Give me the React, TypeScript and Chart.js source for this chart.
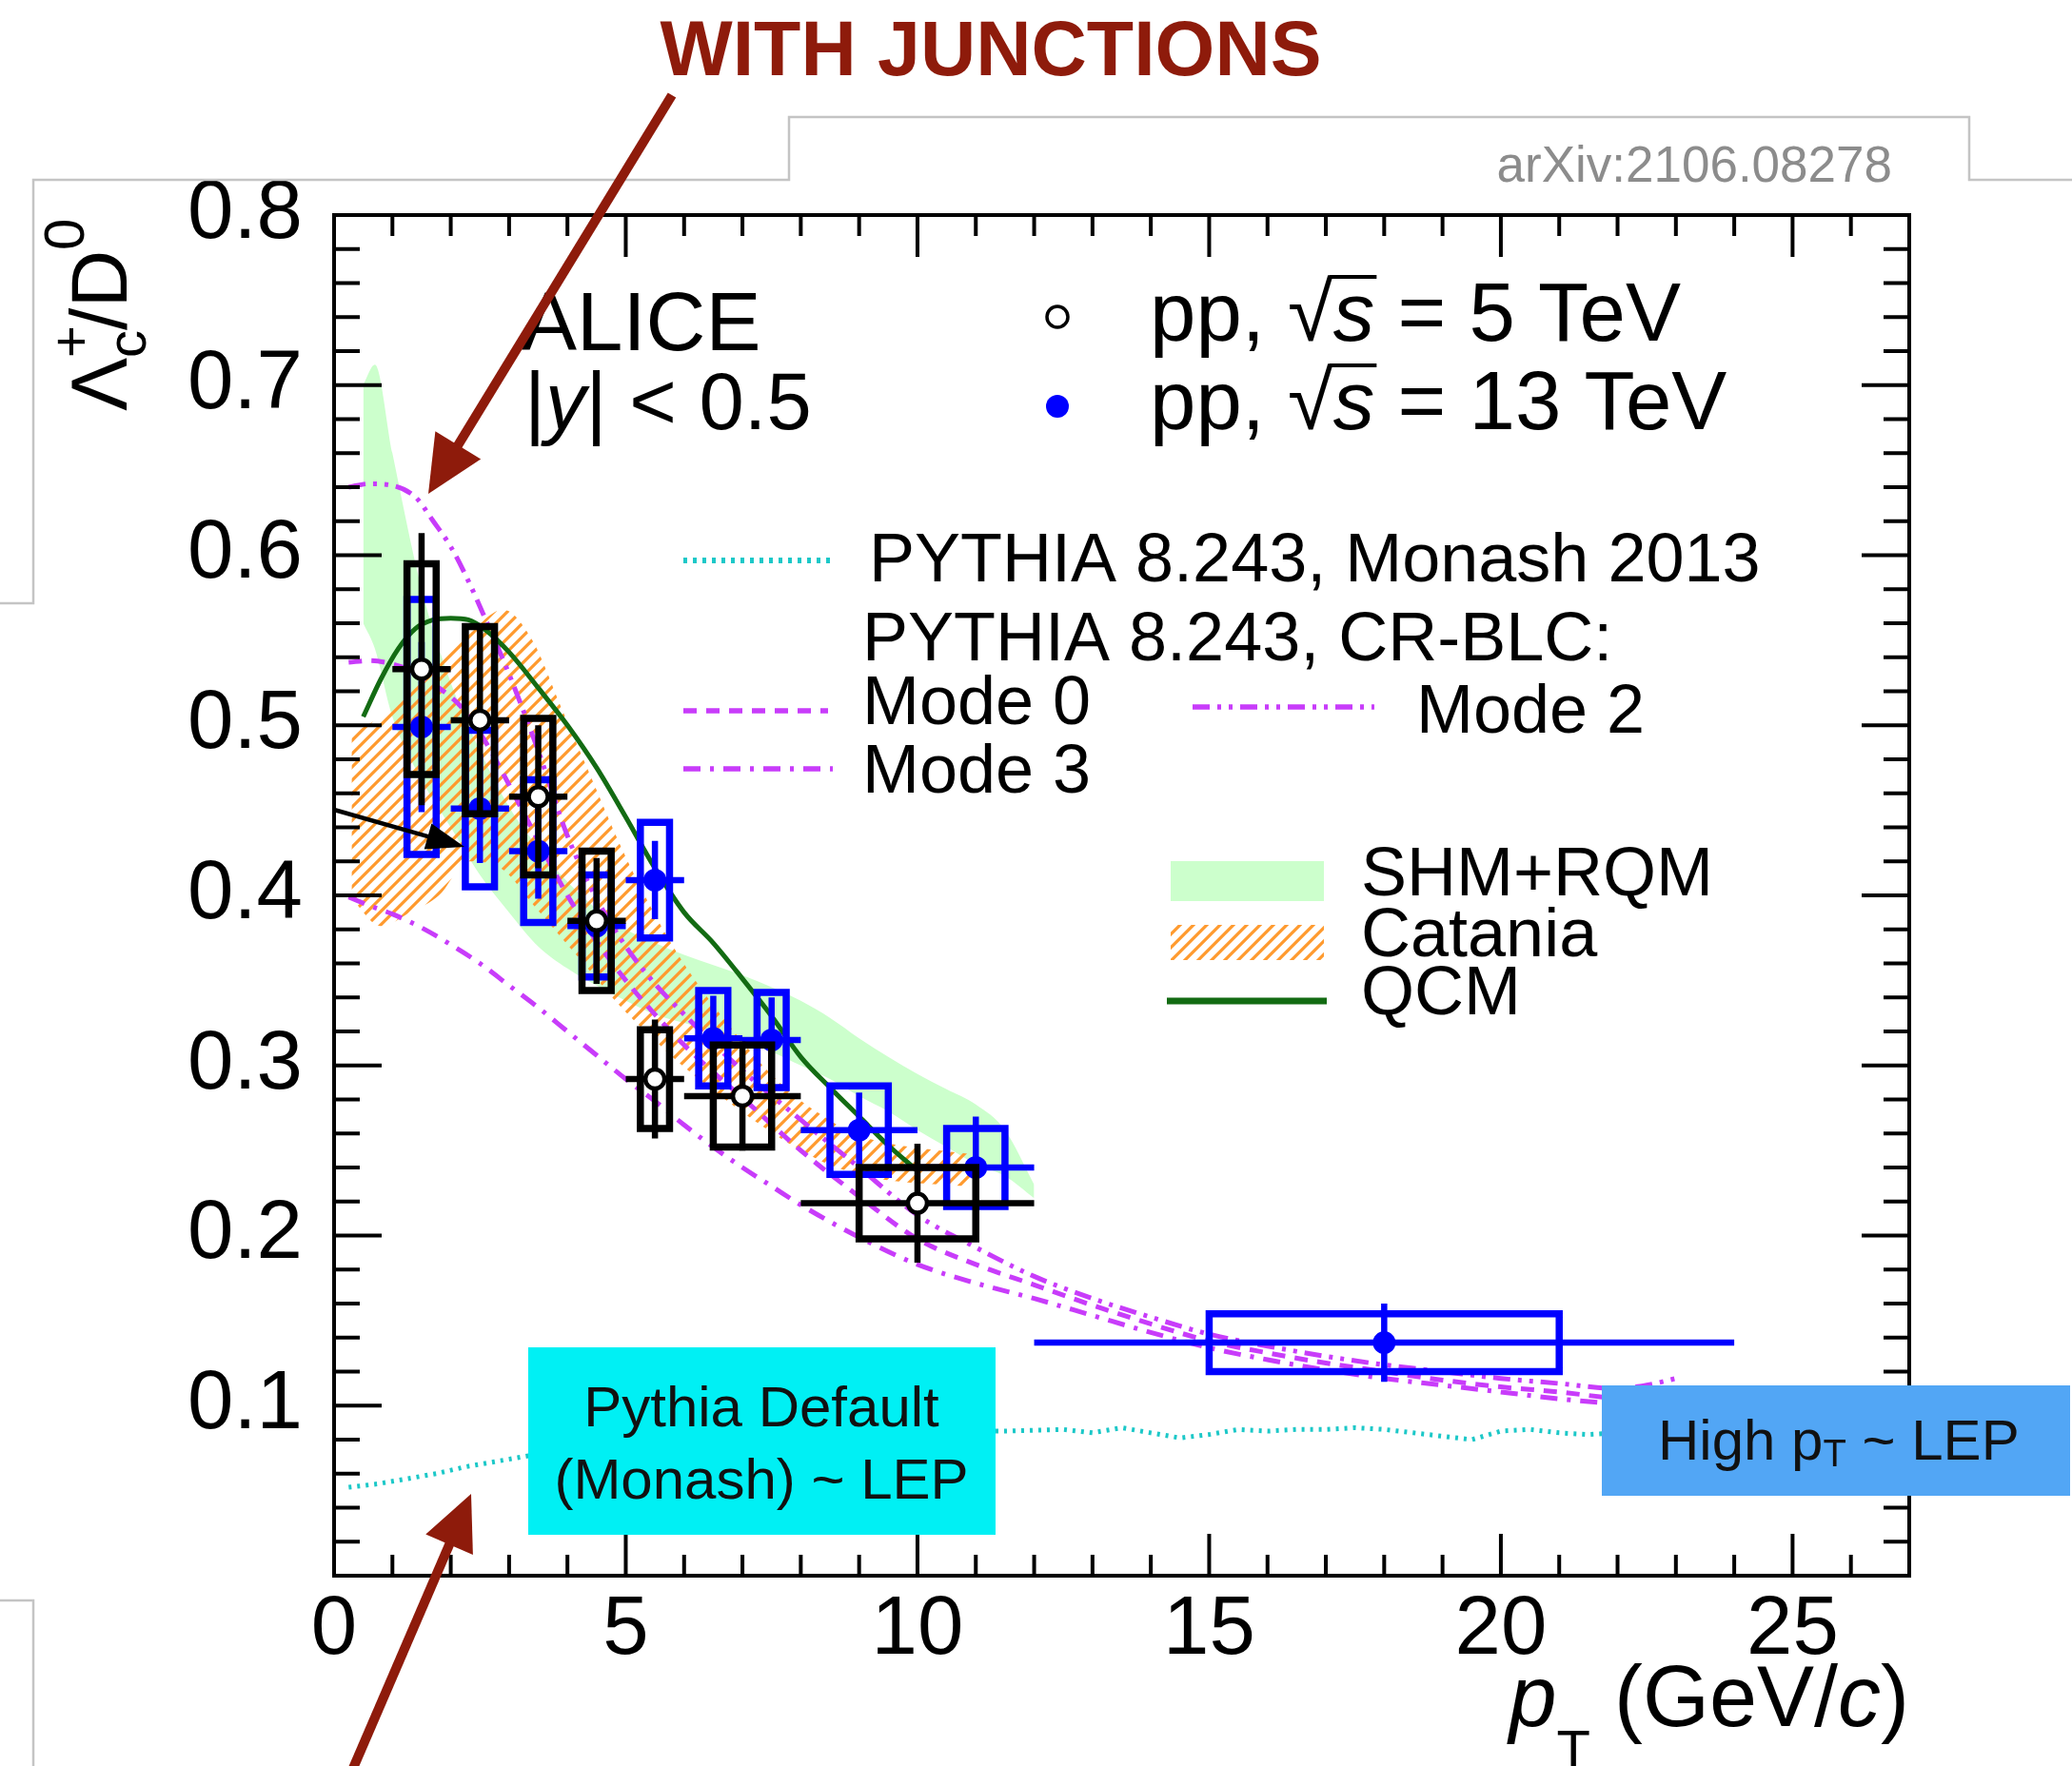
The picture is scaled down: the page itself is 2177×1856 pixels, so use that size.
import React, { useEffect, useRef } from 'react';
import { Chart, registerables } from 'chart.js';

Chart.register(...registerables);

const FONT = '"Liberation Sans", Arial, Helvetica, sans-serif';

// ---------------- axes ----------------
const xRange = [0, 27];
const yRange = [0, 0.8];
const xTickLabels = [0, 5, 10, 15, 20, 25];
const yTickLabels = [0.1, 0.2, 0.3, 0.4, 0.5, 0.6, 0.7, 0.8];
const xMinorStep = 1;
const xMajorEvery = 5;
const yMinorStep = 0.02;
const yMajorEvery = 5;

// ---------------- ALICE pp 5 TeV (open black) ----------------
const pt5X = [1.5, 2.5, 3.5, 4.5, 5.5, 7, 10];
const pt5Lo = [1, 2, 3, 4, 5, 6, 8];
const pt5Hi = [2, 3, 4, 5, 6, 8, 12];
const pt5Y = [0.533, 0.503, 0.458, 0.385, 0.292, 0.282, 0.219];
const pt5Stat = [0.08, 0.055, 0.042, 0.037, 0.035, 0.032, 0.035];
const pt5Sys = [0.062, 0.055, 0.046, 0.041, 0.029, 0.03, 0.021];

// ---------------- ALICE pp 13 TeV (filled blue) ----------------
const pt13X = [1.5, 2.5, 3.5, 4.5, 5.5, 6.5, 7.5, 9, 11, 18];
const pt13Lo = [1, 2, 3, 4, 5, 6, 7, 8, 10, 12];
const pt13Hi = [2, 3, 4, 5, 6, 7, 8, 10, 12, 24];
const pt13Y = [0.499, 0.451, 0.426, 0.382, 0.409, 0.316, 0.315, 0.262, 0.24, 0.137];
const pt13Stat = [0.05, 0.032, 0.028, 0.03, 0.023, 0.025, 0.025, 0.022, 0.03, 0.023];
const pt13Sys = [0.075, 0.046, 0.042, 0.03, 0.034, 0.028, 0.028, 0.026, 0.023, 0.017];

// ---------------- SHM+RQM band ----------------
const shmX = [0.5, 0.7, 1.0, 1.5, 2.0, 2.5, 3.0, 3.5, 4.0, 4.5, 5.0, 5.5, 6.0, 6.5, 7.0, 7.5, 8.0, 8.5, 9.0, 9.5, 10.0, 10.5, 11.0, 11.5, 12.0];
const shmHi = [0.7, 0.712, 0.66, 0.58, 0.525, 0.485, 0.452, 0.428, 0.408, 0.392, 0.38, 0.372, 0.365, 0.359, 0.353, 0.346, 0.338, 0.328, 0.316, 0.305, 0.295, 0.286, 0.277, 0.262, 0.23];
const shmLo = [0.56, 0.545, 0.505, 0.468, 0.44, 0.412, 0.39, 0.37, 0.357, 0.347, 0.338, 0.33, 0.325, 0.32, 0.314, 0.308, 0.3, 0.292, 0.282, 0.273, 0.262, 0.252, 0.242, 0.235, 0.222];

// ---------------- Catania band ----------------
const catX = [0.3, 0.8, 1.3, 1.8, 2.3, 2.9, 3.4, 3.9, 4.4, 4.9, 5.4, 5.9, 6.4, 6.9, 7.4, 7.9, 8.4, 8.9, 9.4, 9.9, 10.4, 10.9];
const catHi = [0.495, 0.505, 0.52, 0.537, 0.553, 0.568, 0.55, 0.51, 0.47, 0.43, 0.395, 0.365, 0.34, 0.318, 0.298, 0.282, 0.27, 0.26, 0.255, 0.252, 0.25, 0.248];
const catLo = [0.398, 0.382, 0.39, 0.4, 0.42, 0.415, 0.395, 0.375, 0.355, 0.335, 0.318, 0.302, 0.288, 0.275, 0.263, 0.252, 0.243, 0.237, 0.233, 0.231, 0.23, 0.229];

// ---------------- QCM ----------------
const qcmX = [0.5, 0.8, 1.1, 1.4, 1.7, 2.0, 2.3, 2.6, 3.0, 3.5, 4.0, 4.5, 5.0, 5.5, 6.0, 6.5, 7.0, 7.5, 8.0, 8.5, 9.0, 9.5, 10.0];
const qcmY = [0.505, 0.527, 0.545, 0.557, 0.562, 0.563, 0.562, 0.556, 0.543, 0.522, 0.5, 0.475, 0.446, 0.416, 0.39, 0.372, 0.351, 0.329, 0.305, 0.287, 0.27, 0.253, 0.238];

// ---------------- PYTHIA Monash ----------------
const monX = [0.25, 0.75, 1.25, 1.75, 2.25, 2.75, 3.25, 3.75, 4.5, 5.5, 6.5, 7.5, 8.5, 9.5, 10.5, 11.5, 12.5, 13.0, 13.5, 14.0, 14.5, 15.0, 15.5, 16.0, 16.5, 17.0, 17.5, 18.0, 18.5, 19.0, 19.5, 20.0, 20.5, 21.0, 21.5, 22.0, 23.0];
const monY = [0.052, 0.054, 0.057, 0.06, 0.064, 0.067, 0.07, 0.073, 0.077, 0.08, 0.082, 0.083, 0.084, 0.085, 0.085, 0.085, 0.086, 0.084, 0.087, 0.084, 0.081, 0.083, 0.086, 0.085, 0.086, 0.086, 0.087, 0.086, 0.084, 0.082, 0.08, 0.085, 0.086, 0.084, 0.083, 0.084, 0.085];

// ---------------- PYTHIA CR-BLC modes ----------------
const mode2X = [0.25, 0.6, 1.0, 1.4, 1.7, 2.0, 2.3, 2.6, 3.0, 3.5, 4.0, 4.5, 5.0, 5.5, 6.0, 6.5, 7.0, 8.0, 9.0, 10.0, 11.0, 12.0, 13.0, 14.0, 15.0, 16.0, 17.0, 18.0, 19.0, 20.0, 21.0, 22.0, 22.5, 23.0];
const mode2Y = [0.64, 0.642, 0.641, 0.634, 0.62, 0.605, 0.585, 0.562, 0.53, 0.485, 0.435, 0.398, 0.37, 0.348, 0.33, 0.313, 0.297, 0.268, 0.24, 0.212, 0.193, 0.176, 0.163, 0.152, 0.142, 0.135, 0.129, 0.124, 0.12, 0.116, 0.113, 0.11, 0.112, 0.116];
const mode0X = [0.25, 0.6, 1.0, 1.4, 1.8, 2.2, 2.6, 3.0, 3.5, 4.0, 4.5, 5.0, 5.5, 6.0, 6.5, 7.0, 8.0, 9.0, 10.0, 11.0, 12.0, 13.0, 14.0, 15.0, 16.0, 17.0, 18.0, 19.0, 20.0, 21.0, 22.0, 23.0];
const mode0Y = [0.537, 0.538, 0.536, 0.531, 0.522, 0.51, 0.49, 0.465, 0.432, 0.4, 0.373, 0.35, 0.33, 0.312, 0.296, 0.281, 0.25, 0.223, 0.198, 0.183, 0.171, 0.159, 0.148, 0.138, 0.131, 0.125, 0.12, 0.115, 0.111, 0.108, 0.104, 0.101];
const mode3X = [0.25, 0.6, 1.0, 1.5, 2.0, 2.5, 3.0, 3.5, 4.0, 4.5, 5.0, 5.5, 6.0, 6.5, 7.0, 7.5, 8.0, 9.0, 10.0, 11.0, 12.0, 13.0, 14.0, 15.0, 16.0, 17.0, 18.0, 19.0, 20.0, 21.0, 22.0, 23.0];
const mode3Y = [0.399, 0.394, 0.389, 0.381, 0.371, 0.36, 0.347, 0.334, 0.32, 0.306, 0.292, 0.279, 0.265, 0.252, 0.24, 0.229, 0.218, 0.199, 0.183, 0.172, 0.163, 0.153, 0.143, 0.134, 0.127, 0.121, 0.116, 0.112, 0.108, 0.104, 0.101, 0.099];

// ---------------- colours ----------------
const BLUE = '#0000ff';
const GREEN_BAND = '#ccffcc';
const QCM_GREEN = '#136b13';
const ORANGE = '#ff9a2e';
const CYAN_LINE = '#1cc8c8';
const MAGENTA = '#c83cfa';
const DARK_RED = '#8e1b0b';

type Pt = { x: number; y: number | null };
const xy = (xs: number[], ys: number[]): Pt[] => xs.map((x, i) => ({ x, y: ys[i] }));

function boxPoints(xs: number[], lo: number[], hi: number[], ys: number[], sys: number[]): Pt[] {
  const pts: Pt[] = [];
  xs.forEach((x, i) => {
    const w = (hi[i] - lo[i]) / 4;
    const y0 = ys[i] - sys[i];
    const y1 = ys[i] + sys[i];
    pts.push({ x: x - w, y: y0 }, { x: x + w, y: y0 }, { x: x + w, y: y1 }, { x: x - w, y: y1 }, { x: x - w, y: y0 }, { x: x + w, y: y0 }, { x, y: null });
  });
  return pts;
}

function barPoints(xs: number[], lo: number[], hi: number[], ys: number[], st: number[]): Pt[] {
  const pts: Pt[] = [];
  xs.forEach((x, i) => {
    pts.push({ x: lo[i], y: ys[i] }, { x: hi[i], y: ys[i] }, { x: hi[i], y: null });
    pts.push({ x, y: ys[i] - st[i] }, { x, y: ys[i] + st[i] }, { x, y: null });
  });
  return pts;
}

function makeHatch(): CanvasPattern | string {
  const c = document.createElement('canvas');
  const s = 14;
  c.width = s;
  c.height = s;
  const g = c.getContext('2d');
  if (!g) return ORANGE;
  g.strokeStyle = ORANGE;
  g.lineWidth = 3.2;
  g.beginPath();
  g.moveTo(0, s);
  g.lineTo(s, 0);
  g.moveTo(-s / 2, s / 2);
  g.lineTo(s / 2, -s / 2);
  g.moveTo(s / 2, s * 1.5);
  g.lineTo(s * 1.5, s / 2);
  g.stroke();
  return g.createPattern(c, 'repeat') || ORANGE;
}

type Run = { t: string; size: number; italic?: boolean; bold?: boolean; dy?: number; overline?: boolean; noAdvance?: boolean };
const fontOf = (r: Run) => `${r.italic ? 'italic ' : ''}${r.bold ? 'bold ' : ''}${r.size}px ${FONT}`;

function drawRuns(ctx: CanvasRenderingContext2D, x: number, y: number, runs: Run[], align: 'left' | 'right' | 'center' = 'left') {
  ctx.textBaseline = 'alphabetic';
  ctx.textAlign = 'left';
  let total = 0;
  for (const r of runs) {
    ctx.font = fontOf(r);
    if (!r.noAdvance) total += ctx.measureText(r.t).width;
  }
  let cx = align === 'right' ? x - total : align === 'center' ? x - total / 2 : x;
  let radTop = 0;
  for (const r of runs) {
    ctx.font = fontOf(r);
    const m = ctx.measureText(r.t);
    ctx.fillText(r.t, cx, y + (r.dy || 0));
    if (r.t === '√') radTop = m.actualBoundingBoxAscent;
    if (r.overline) ctx.fillRect(cx - 4, y - radTop, m.width + 6, 4);
    if (!r.noAdvance) cx += m.width;
  }
}

function arrow(ctx: CanvasRenderingContext2D, x0: number, y0: number, x1: number, y1: number, color: string, width: number, headLen: number, headHalf: number) {
  const a = Math.atan2(y1 - y0, x1 - x0);
  const bx = x1 - headLen * Math.cos(a);
  const by = y1 - headLen * Math.sin(a);
  ctx.strokeStyle = color;
  ctx.fillStyle = color;
  ctx.lineWidth = width;
  ctx.lineCap = 'butt';
  ctx.beginPath();
  ctx.moveTo(x0, y0);
  ctx.lineTo(bx + 2 * Math.cos(a), by + 2 * Math.sin(a));
  ctx.stroke();
  ctx.beginPath();
  ctx.moveTo(x1, y1);
  ctx.lineTo(bx + headHalf * Math.sin(a), by - headHalf * Math.cos(a));
  ctx.lineTo(bx - headHalf * Math.sin(a), by + headHalf * Math.cos(a));
  ctx.closePath();
  ctx.fill();
}

export default function App() {
  const ref = useRef<HTMLCanvasElement>(null);

  useEffect(() => {
    document.body.style.margin = '0';
    document.body.style.overflow = 'hidden';
    const canvas = ref.current;
    if (!canvas) return;
    const hatch = makeHatch();

    const lineDs = (data: Pt[], color: string, width: number, dash: number[], extra: any = {}) => ({
      data,
      borderColor: color,
      borderWidth: width,
      borderDash: dash,
      pointRadius: 0,
      showLine: true,
      fill: false,
      cubicInterpolationMode: 'monotone',
      ...extra,
    });

    const datasets: any[] = [
      lineDs(xy(shmX, shmLo), 'rgba(0,0,0,0)', 0, []),
      lineDs(xy(shmX, shmHi), 'rgba(0,0,0,0)', 0, [], { fill: '-1', backgroundColor: GREEN_BAND }),
      lineDs(xy(catX, catLo), 'rgba(0,0,0,0)', 0, []),
      lineDs(xy(catX, catHi), 'rgba(0,0,0,0)', 0, [], { fill: '-1', backgroundColor: hatch }),
      lineDs(xy(monX, monY), CYAN_LINE, 5, [3, 6], { cubicInterpolationMode: 'default', tension: 0 }),
      lineDs(xy(mode3X, mode3Y), MAGENTA, 5, [18, 10, 4, 10]),
      lineDs(xy(mode0X, mode0Y), MAGENTA, 5, [14, 10]),
      lineDs(xy(mode2X, mode2Y), MAGENTA, 5, [18, 8, 4, 8, 4, 8]),
      lineDs(xy(qcmX, qcmY), QCM_GREEN, 5, []),
      { data: boxPoints(pt13X, pt13Lo, pt13Hi, pt13Y, pt13Sys), borderColor: BLUE, borderWidth: 7.5, pointRadius: 0, showLine: true, fill: false, tension: 0, borderJoinStyle: 'miter' },
      { data: barPoints(pt13X, pt13Lo, pt13Hi, pt13Y, pt13Stat), borderColor: BLUE, borderWidth: 6.5, pointRadius: 0, showLine: true, fill: false, tension: 0 },
      { data: xy(pt13X, pt13Y), showLine: false, pointRadius: 12, pointBackgroundColor: BLUE, pointBorderColor: BLUE, pointBorderWidth: 0 },
      { data: boxPoints(pt5X, pt5Lo, pt5Hi, pt5Y, pt5Sys), borderColor: '#000', borderWidth: 7.5, pointRadius: 0, showLine: true, fill: false, tension: 0, borderJoinStyle: 'miter' },
      { data: barPoints(pt5X, pt5Lo, pt5Hi, pt5Y, pt5Stat), borderColor: '#000', borderWidth: 6.5, pointRadius: 0, showLine: true, fill: false, tension: 0 },
      { data: xy(pt5X, pt5Y), showLine: false, pointRadius: 10, pointBackgroundColor: '#fff', pointBorderColor: '#000', pointBorderWidth: 4.5 },
    ];
    datasets.forEach((d, i) => { d.order = datasets.length - i; });

    const framePlugin = {
      id: 'frame',
      afterDatasetsDraw(chart: any) {
        const { ctx, chartArea: a } = chart;
        const xs = chart.scales.x;
        const ys = chart.scales.y;
        ctx.save();
        ctx.strokeStyle = '#000';
        ctx.lineWidth = 4;
        ctx.lineCap = 'butt';
        ctx.beginPath();
        const nx = Math.round((xRange[1] - xRange[0]) / xMinorStep);
        for (let i = 1; i < nx; i++) {
          const px = xs.getPixelForValue(xRange[0] + i * xMinorStep);
          const L = i % xMajorEvery === 0 ? 44 : 22;
          ctx.moveTo(px, a.bottom);
          ctx.lineTo(px, a.bottom - L);
          ctx.moveTo(px, a.top);
          ctx.lineTo(px, a.top + L);
        }
        const ny = Math.round((yRange[1] - yRange[0]) / yMinorStep);
        for (let i = 1; i < ny; i++) {
          const py = ys.getPixelForValue(yRange[0] + i * yMinorStep);
          const L = i % yMajorEvery === 0 ? 50 : 27;
          ctx.moveTo(a.left, py);
          ctx.lineTo(a.left + L, py);
          ctx.moveTo(a.right, py);
          ctx.lineTo(a.right - L, py);
        }
        ctx.stroke();
        ctx.lineWidth = 4;
        ctx.strokeRect(a.left, a.top, a.right - a.left, a.bottom - a.top);
        ctx.restore();
      },
    };

    const annoPlugin = {
      id: 'anno',
      afterDraw(chart: any) {
        const ctx: CanvasRenderingContext2D = chart.ctx;
        ctx.save();
        // slide frame lines
        ctx.strokeStyle = '#c4c4c4';
        ctx.lineWidth = 2.5;
        ctx.beginPath();
        ctx.moveTo(0, 634); ctx.lineTo(35, 634); ctx.lineTo(35, 189); ctx.lineTo(829, 189);
        ctx.lineTo(829, 123); ctx.lineTo(2069, 123); ctx.lineTo(2069, 189); ctx.lineTo(2177, 189);
        ctx.moveTo(0, 1682); ctx.lineTo(35, 1682); ctx.lineTo(35, 1856);
        ctx.stroke();

        ctx.fillStyle = '#000';
        // axis titles
        ctx.save();
        ctx.translate(133, 432);
        ctx.rotate(-Math.PI / 2);
        drawRuns(ctx, 0, 0, [
          { t: 'Λ', size: 84 },
          { t: '+', size: 58, dy: -39, noAdvance: true },
          { t: 'c', size: 58, dy: 20 },
          { t: '/D', size: 84 },
          { t: '0', size: 60, dy: -45 },
        ]);
        ctx.restore();
        drawRuns(ctx, 2006, 1814, [
          { t: 'p', size: 90, italic: true },
          { t: 'T', size: 58, dy: 45 },
          { t: ' (GeV/', size: 90 },
          { t: 'c', size: 90, italic: true },
          { t: ')', size: 90 },
        ], 'right');

        // top texts
        ctx.fillStyle = DARK_RED;
        ctx.font = `bold 82px ${FONT}`;
        ctx.textAlign = 'center';
        ctx.textBaseline = 'alphabetic';
        ctx.fillText('WITH JUNCTIONS', 1041, 79, 695);
        ctx.fillStyle = '#8c8c8c';
        ctx.font = `53px ${FONT}`;
        ctx.textAlign = 'right';
        ctx.fillText('arXiv:2106.08278', 1988, 191);

        // in-plot text
        ctx.fillStyle = '#000';
        drawRuns(ctx, 548, 368, [{ t: 'ALICE', size: 87 }]);
        drawRuns(ctx, 551, 451, [{ t: '|', size: 85 }, { t: 'y', size: 85, italic: true }, { t: '| < 0.5', size: 85 }]);
        drawRuns(ctx, 1208, 358, [{ t: 'pp, ', size: 87 }, { t: '√', size: 87 }, { t: 's', size: 87, italic: true, overline: true }, { t: ' = 5 TeV', size: 87 }]);
        drawRuns(ctx, 1208, 451, [{ t: 'pp, ', size: 87 }, { t: '√', size: 87 }, { t: 's', size: 87, italic: true, overline: true }, { t: ' = 13 TeV', size: 87 }]);
        // markers
        ctx.lineWidth = 3.5;
        ctx.strokeStyle = '#000';
        ctx.fillStyle = '#fff';
        ctx.beginPath(); ctx.arc(1111, 333, 11, 0, Math.PI * 2); ctx.fill(); ctx.stroke();
        ctx.fillStyle = BLUE;
        ctx.beginPath(); ctx.arc(1111, 427, 12, 0, Math.PI * 2); ctx.fill();

        // legend lines
        const legLine = (x0: number, x1: number, y: number, color: string, w: number, dash: number[]) => {
          ctx.strokeStyle = color; ctx.lineWidth = w; ctx.setLineDash(dash);
          ctx.beginPath(); ctx.moveTo(x0, y); ctx.lineTo(x1, y); ctx.stroke();
          ctx.setLineDash([]);
        };
        legLine(718, 875, 589, CYAN_LINE, 6, [4, 6]);
        legLine(718, 870, 747, MAGENTA, 5.5, [14, 10]);
        legLine(1253, 1444, 743, MAGENTA, 5.5, [18, 8, 4, 8, 4, 8]);
        legLine(718, 875, 808, MAGENTA, 5.5, [18, 10, 4, 10]);
        legLine(1226, 1394, 1052, QCM_GREEN, 7, []);
        ctx.fillStyle = GREEN_BAND;
        ctx.fillRect(1230, 905, 161, 42);
        ctx.fillStyle = hatch as any;
        ctx.fillRect(1230, 972, 161, 37);

        ctx.fillStyle = '#000';
        drawRuns(ctx, 913, 611, [{ t: 'PYTHIA 8.243, Monash 2013', size: 72 }]);
        drawRuns(ctx, 906, 694, [{ t: 'PYTHIA 8.243, CR-BLC:', size: 72 }]);
        drawRuns(ctx, 906, 761, [{ t: 'Mode 0', size: 72 }]);
        drawRuns(ctx, 1488, 770, [{ t: 'Mode 2', size: 72 }]);
        drawRuns(ctx, 906, 833, [{ t: 'Mode 3', size: 72 }]);
        drawRuns(ctx, 1430, 941, [{ t: 'SHM+RQM', size: 72 }]);
        drawRuns(ctx, 1430, 1005, [{ t: 'Catania', size: 72 }]);
        drawRuns(ctx, 1430, 1066, [{ t: 'QCM', size: 72 }]);

        // annotation boxes
        ctx.fillStyle = '#00f0f4';
        ctx.fillRect(555, 1416, 491, 197);
        ctx.fillStyle = '#111';
        drawRuns(ctx, 800, 1499, [{ t: 'Pythia Default', size: 60 }], 'center');
        drawRuns(ctx, 800, 1575, [{ t: '(Monash) ~ LEP', size: 60 }], 'center');
        ctx.fillStyle = '#52a6f5';
        ctx.fillRect(1683, 1456, 492, 116);
        ctx.fillStyle = '#111';
        drawRuns(ctx, 1742, 1534, [{ t: 'High p', size: 60 }, { t: 'T', size: 40, dy: 7 }, { t: ' ~ LEP', size: 60 }]);

        // arrows
        arrow(ctx, 706, 100, 450, 519, DARK_RED, 10, 60, 28);
        arrow(ctx, 366, 1870, 495, 1570, DARK_RED, 10, 58, 27);
        arrow(ctx, 351, 851, 488, 890, '#000', 4.5, 40, 14);
        ctx.restore();
      },
    };

    const chart = new Chart(canvas, {
      type: 'line',
      data: { datasets },
      options: {
        responsive: false,
        animation: false,
        events: [],
        layout: { padding: { top: 226, right: 171, left: 0, bottom: 0 } },
        plugins: { legend: { display: false }, tooltip: { enabled: false } },
        scales: {
          x: {
            type: 'linear',
            min: xRange[0],
            max: xRange[1],
            afterFit: (s: any) => { s.height = 200; },
            grid: { display: false, drawTicks: false },
            border: { display: false },
            ticks: {
              stepSize: 5,
              includeBounds: false,
              autoSkip: false,
              maxRotation: 0,
              padding: 6,
              color: '#000',
              font: { family: FONT, size: 87 },
              callback: (v: any) => (xTickLabels.some((t) => Math.abs(t - Number(v)) < 1e-6) ? String(v) : ''),
            },
          },
          y: {
            type: 'linear',
            min: yRange[0],
            max: yRange[1],
            afterFit: (s: any) => { s.width = 351; },
            grid: { display: false, drawTicks: false },
            border: { display: false },
            ticks: {
              stepSize: 0.1,
              autoSkip: false,
              padding: 33,
              color: '#000',
              font: { family: FONT, size: 87 },
              callback: (v: any) => (yTickLabels.some((t) => Math.abs(t - Number(v)) < 1e-6) ? Number(v).toFixed(1) : ''),
            },
          },
        },
      } as any,
      plugins: [framePlugin, annoPlugin],
    });
    return () => chart.destroy();
  }, []);

  return (
    <div style={{ position: 'absolute', left: 0, top: 0, width: 2177, height: 1856, background: '#fff' }}>
      <canvas ref={ref} width={2177} height={1856} style={{ width: 2177, height: 1856, display: 'block' }} />
    </div>
  );
}
